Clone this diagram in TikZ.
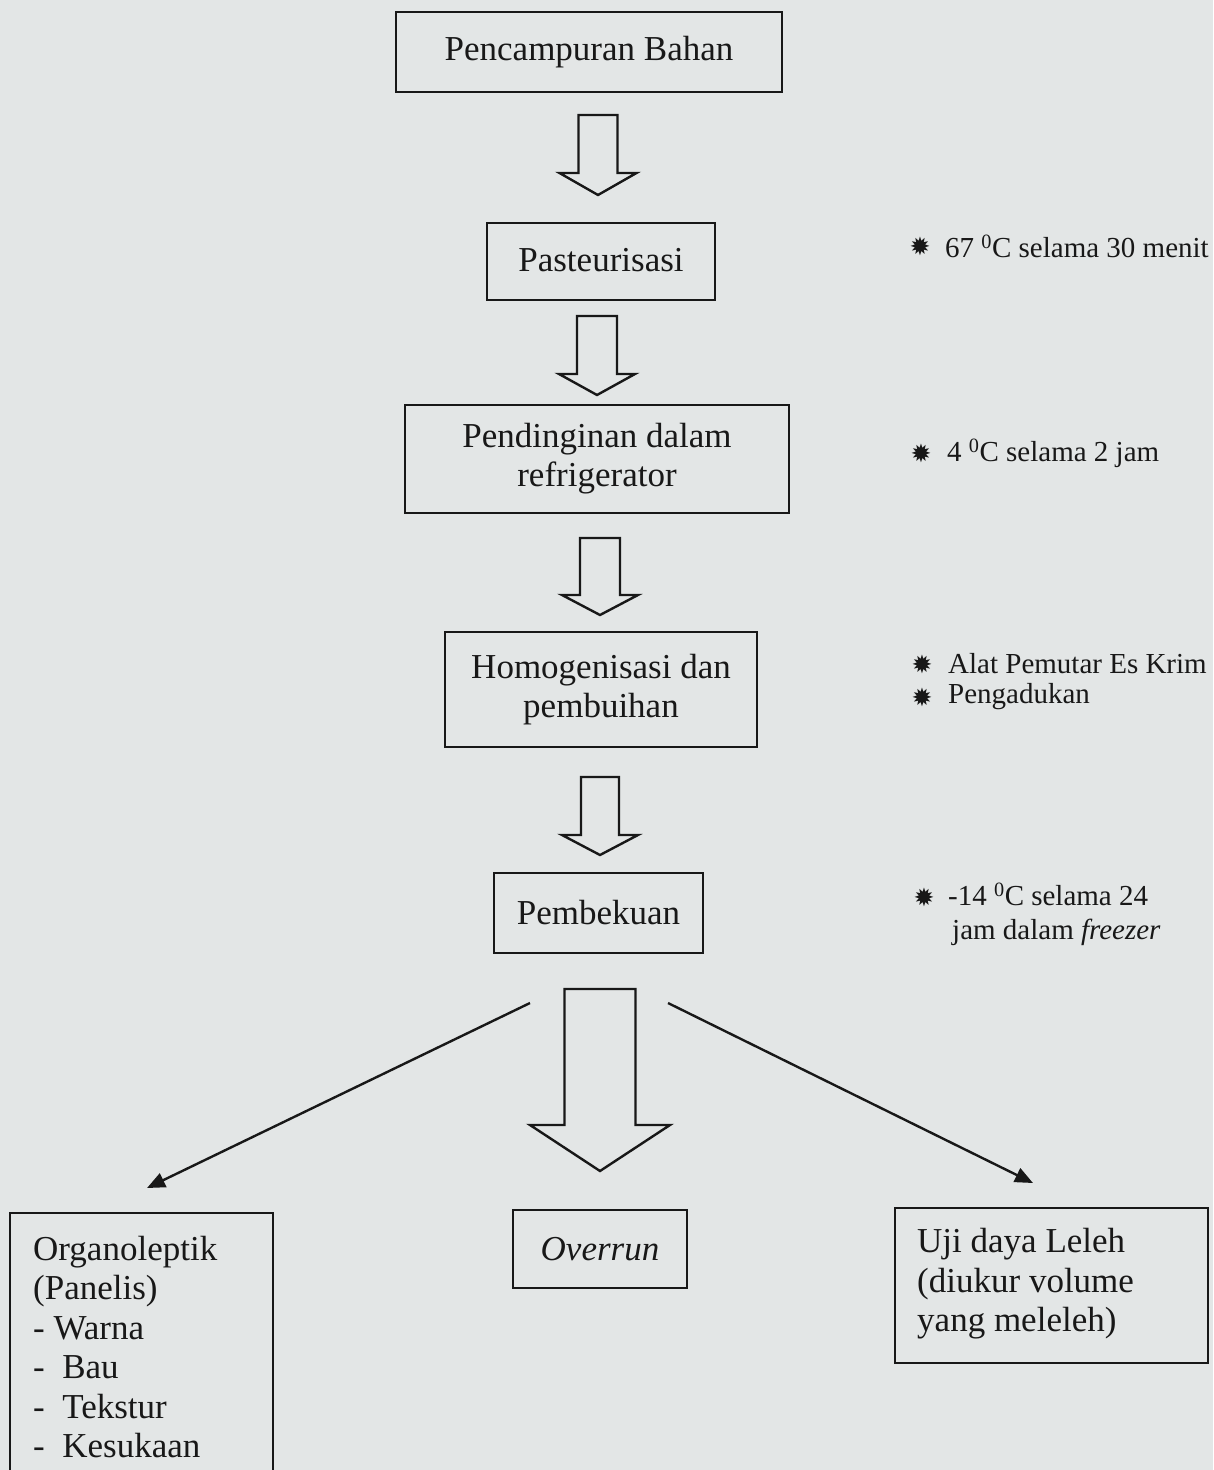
\documentclass[tikz,border=0pt]{standalone}
\usepackage{fontspec}
\setmainfont{Liberation Serif}
\newfontfamily\symfont{DejaVu Sans}
\usetikzlibrary{arrows.meta}
\definecolor{bgc}{RGB}{227,230,230}
\definecolor{ink}{RGB}{24,24,24}
\newcommand\BlkArr[6]{%
  \draw[blk] (#1-#5,#2) -- (#1+#5,#2) -- (#1+#5,#3) -- (#1+#6,#3) -- (#1,#4) -- (#1-#6,#3) -- (#1-#5,#3) -- cycle;}
\begin{document}
\begin{tikzpicture}[x=1pt,y=-1pt,
  stepbox/.style={draw=ink, line width=2.8pt, inner sep=0pt, align=center, text=ink,
    font=\fontsize{35}{39}\selectfont},
  boxtext/.style={inner sep=0pt, align=left, anchor=west, text=ink,
    font=\fontsize{35}{39.5}\selectfont},
  note/.style={inner sep=0pt, align=left, anchor=west, text=ink,
    font=\fontsize{29}{34}\selectfont},
  starmark/.style={inner sep=0pt, text=ink, font=\symfont\fontsize{25}{25}\selectfont},
  blk/.style={draw=ink, line width=2.4pt, line join=miter},
  conn/.style={draw=ink, line width=2.4pt, -{Triangle[length=18pt,width=15pt]}}]
\useasboundingbox (0,0) rectangle (1213,1470);
\fill[bgc] (0,0) rectangle (1213,1470);

% process boxes
\node[stepbox, minimum width=386pt, minimum height=80pt] (b1) at (589,52) {Pencampuran Bahan};
\node[stepbox, minimum width=228pt, minimum height=77pt] (b2) at (601,261.5) {\raisebox{3pt}{Pasteurisasi}};
\node[stepbox, minimum width=384pt, minimum height=108pt] (b3) at (597,459) {Pendinginan dalam\\refrigerator};
\node[stepbox, minimum width=312pt, minimum height=115pt] (b4) at (601,689.5) {Homogenisasi dan\\pembuihan};
\node[stepbox, minimum width=209pt, minimum height=80pt] (b5) at (598.5,913) {\raisebox{2pt}{Pembekuan}};

% block arrows
\BlkArr{598}{115}{173}{195}{19.5}{38.5}
\BlkArr{597}{316}{374}{395}{20}{38}
\BlkArr{600}{538}{595}{615}{20}{38}
\BlkArr{600}{777}{835}{855}{19}{38}
\BlkArr{600}{989}{1125}{1171}{35.5}{70}

% bottom boxes
\node[stepbox, minimum width=174pt, minimum height=78pt, font=\fontsize{35}{39}\selectfont\itshape] (ov) at (600,1249) {Overrun};
\node[stepbox, minimum width=263pt, minimum height=259pt] (org) at (141.5,1342.5) {};
\node[boxtext] (orgt) at (33,1347) {Organoleptik\\(Panelis)\\- Warna\\-\ \ Bau\\-\ \ Tekstur\\-\ \ Kesukaan};
\node[stepbox, minimum width=313pt, minimum height=155pt] (uji) at (1051.5,1285.5) {};
\node[boxtext] (ujit) at (917,1284) {Uji daya Leleh\\(diukur volume\\yang meleleh)};

% diagonal connectors
\coordinate (ls) at (530,1003);
\coordinate (lt) at (147,1188);
\coordinate (rs) at (668,1003);
\coordinate (rt) at (1033,1183);
\draw[conn] (ls) -- (lt);
\draw[conn] (rs) -- (rt);

% side notes
\node[starmark] (s1) at (920,246) {✹};
\node[note] (n1) at (945,246) {67 \textsuperscript{0}C selama 30 menit};
\node[starmark] (s2) at (921,453) {✹};
\node[note] (n2) at (947,453) {4 \textsuperscript{0}C selama 2 jam};
\node[starmark] (s3) at (922,664) {✹};
\node[note] (n3) at (948,664) {Alat Pemutar Es Krim};
\node[starmark] (s4) at (922,697) {✹};
\node[note] (n4) at (948,697) {Pengadukan};
\node[starmark] (s5) at (924,897) {✹};
\node[note] (n5) at (948,914) {-14 \textsuperscript{0}C selama 24\\\hspace*{4pt}jam dalam \textit{freezer}};
\end{tikzpicture}
\end{document}
